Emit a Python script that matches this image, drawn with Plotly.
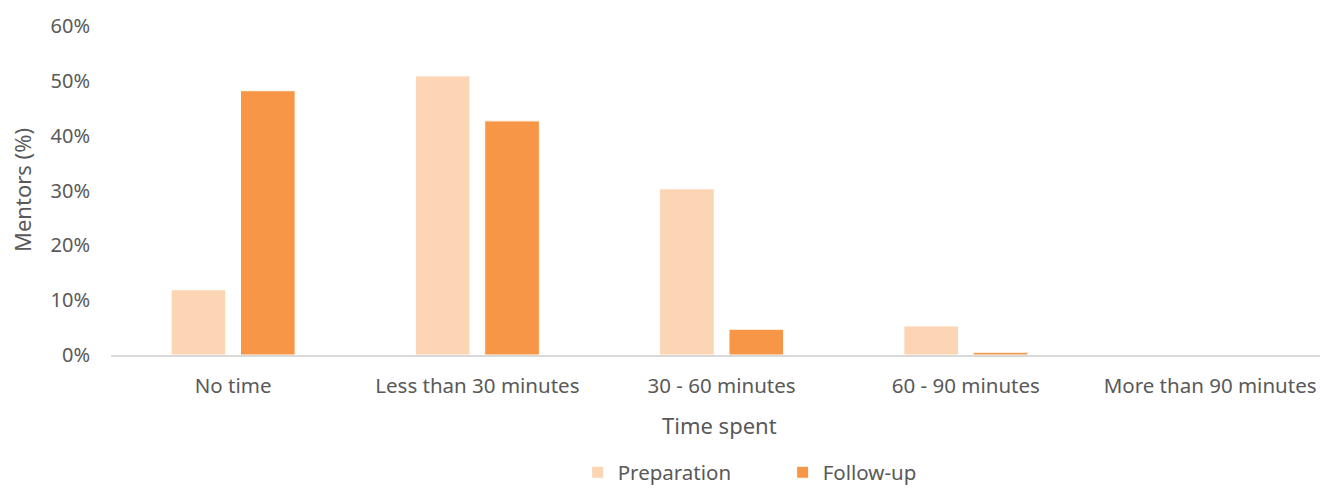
import plotly.graph_objects as go

categories = ["No time", "Less than 30 minutes", "30 - 60 minutes", "60 - 90 minutes", "More than 90 minutes"]
preparation = [11.9, 50.9, 30.3, 5.3, 0.0]
follow_up = [48.2, 42.7, 4.7, 0.5, 0.0]
y_ticks = [0, 10, 20, 30, 40, 50, 60]
y_tick_labels = ["0%", "10%", "20%", "30%", "40%", "50%", "60%"]

TEXT = "#595959"
FONT = "Noto Sans"

fig = go.Figure()
fig.add_trace(go.Bar(name="Preparation", x=categories, y=preparation,
                     marker=dict(color="#FCD5B5", line=dict(color="white", width=1))))
fig.add_trace(go.Bar(name="Follow-up", x=categories, y=follow_up,
                     marker=dict(color="#F79646", line=dict(color="white", width=1))))

fig.update_layout(
    width=1320, height=488,
    margin=dict(l=111, r=0, t=26, b=133, autoexpand=False),
    paper_bgcolor="white", plot_bgcolor="white",
    barmode="group", bargap=0.432, bargroupgap=0.212,
    font=dict(family=FONT, size=20, color=TEXT),
    showlegend=True,
    legend=dict(orientation="h", x=0.386, xanchor="left", y=-0.357, yanchor="middle",
                font=dict(size=20.5, color=TEXT), entrywidth=160, entrywidthmode="pixels",
                itemwidth=30, itemclick=False),
    xaxis=dict(range=[-0.5, 4.45], showline=True, linecolor="#D9D9D9", linewidth=1.5,
               ticks="", showgrid=False, tickfont=dict(size=20.5, color=TEXT),
               ticklabelstandoff=12),
    yaxis=dict(range=[0, 60], tickvals=y_ticks, ticktext=y_tick_labels, showgrid=False,
               zeroline=False, showline=False, ticks="",
               tickfont=dict(size=20, color=TEXT), ticklabelstandoff=20),
    annotations=[
        dict(text="Mentors (%)", textangle=-90, xref="paper", yref="paper",
             x=-0.0736, y=0.5015, xanchor="center", yanchor="middle", showarrow=False,
             font=dict(size=22, color=TEXT)),
        dict(text="Time spent", xref="paper", yref="paper",
             x=0.5037, y=-0.2128, xanchor="center", yanchor="middle", showarrow=False,
             font=dict(size=22, color=TEXT)),
    ],
)

fig.write_html("out.html")
